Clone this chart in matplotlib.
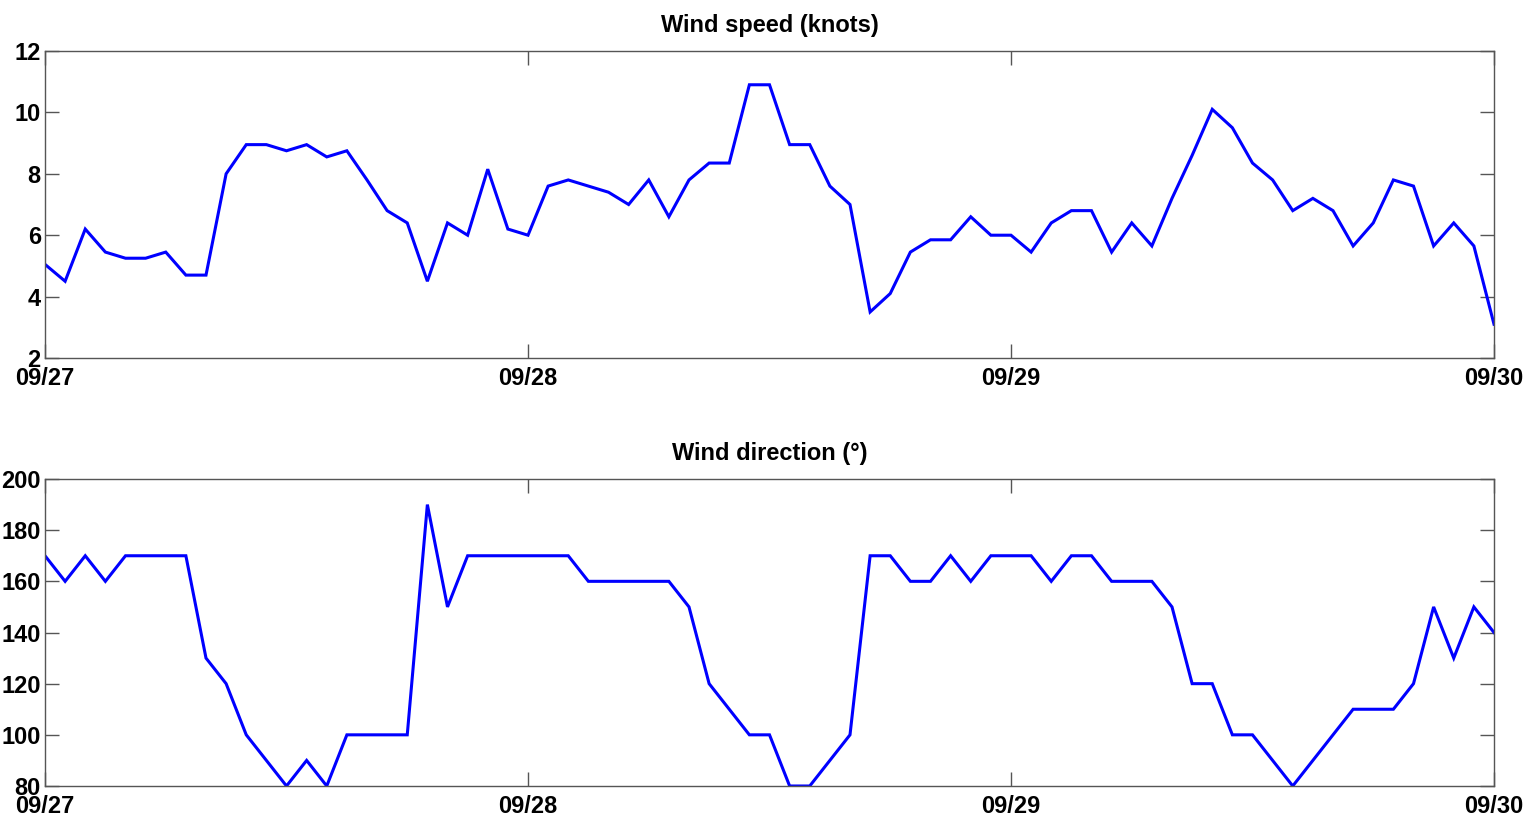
import numpy as np
import pandas as pd
import matplotlib
matplotlib.use("Agg")
import matplotlib.pyplot as plt
import matplotlib.dates as mdates

plt.rcParams['font.family'] = ['Liberation Sans', 'DejaVu Sans']

# Hourly observations, 09/27 00:00 through 09/30 00:00
times = pd.date_range('2013-09-27 00:00', periods=73, freq='h')

wind_speed = [
    5.05, 4.5, 6.2, 5.45, 5.25, 5.25, 5.45, 4.7, 4.7, 8.0, 8.95, 8.95,
    8.75, 8.95, 8.55, 8.75, 7.8, 6.8, 6.4, 4.5, 6.4, 6.0, 8.15, 6.2,
    6.0, 7.6, 7.8, 7.6, 7.4, 7.0, 7.8, 6.6, 7.8, 8.35, 8.35, 10.9,
    10.9, 8.95, 8.95, 7.6, 7.0, 3.5, 4.1, 5.45, 5.85, 5.85, 6.6, 6.0,
    6.0, 5.45, 6.4, 6.8, 6.8, 5.45, 6.4, 5.65, 7.2, 8.6, 10.1, 9.5,
    8.35, 7.8, 6.8, 7.2, 6.8, 5.65, 6.4, 7.8, 7.6, 5.65, 6.4, 5.65, 3.1,
]

wind_dir = [
    170, 160, 170, 160, 170, 170, 170, 170, 130, 120, 100, 90,
    80, 90, 80, 100, 100, 100, 100, 190, 150, 170, 170, 170,
    170, 170, 170, 160, 160, 160, 160, 160, 150, 120, 110, 100,
    100, 80, 80, 90, 100, 170, 170, 160, 160, 170, 160, 170,
    170, 170, 160, 170, 170, 160, 160, 160, 150, 120, 120, 100,
    100, 90, 80, 90, 100, 110, 110, 110, 120, 150, 130, 150, 140,
]

titles = ['Wind speed (knots)', 'Wind direction (\u00b0)']
speed_ticks = [2, 4, 6, 8, 10, 12]
dir_ticks = [80, 100, 120, 140, 160, 180, 200]
day_ticks = pd.date_range('2013-09-27', periods=4, freq='D')

W, H = 1528, 819
fig = plt.figure(figsize=(W / 100, H / 100), dpi=100)

left = 45 / W
width = (1494 - 45) / W
ax1 = fig.add_axes([left, 1 - 358 / H, width, (358 - 51) / H])
ax2 = fig.add_axes([left, 1 - 786 / H, width, (786 - 479) / H])

spine_col = '#555555'
fs = 17

for ax, y, ticks, title in [(ax1, wind_speed, speed_ticks, titles[0]),
                            (ax2, wind_dir, dir_ticks, titles[1])]:
    ax.plot(times, y, color='#0000ff', linewidth=2.2, solid_joinstyle='miter')
    ax.set_xlim(times[0], times[-1])
    ax.set_ylim(ticks[0], ticks[-1])
    ax.set_yticks(ticks)
    ax.set_xticks(day_ticks)
    ax.xaxis.set_major_formatter(mdates.DateFormatter('%m/%d'))
    ax.tick_params(axis='both', direction='in', length=10, width=1,
                   color=spine_col, top=True, right=True,
                   labelsize=fs)
    ax.tick_params(axis='x', pad=6.5)
    ax.tick_params(axis='y', pad=3)
    for lab in ax.get_xticklabels() + ax.get_yticklabels():
        lab.set_fontweight('bold')
    for s in ax.spines.values():
        s.set_color(spine_col)
        s.set_linewidth(1)
    ax.set_title(title, fontsize=fs, fontweight='bold', pad=13.5)

fig.savefig('out.png', dpi=100)
